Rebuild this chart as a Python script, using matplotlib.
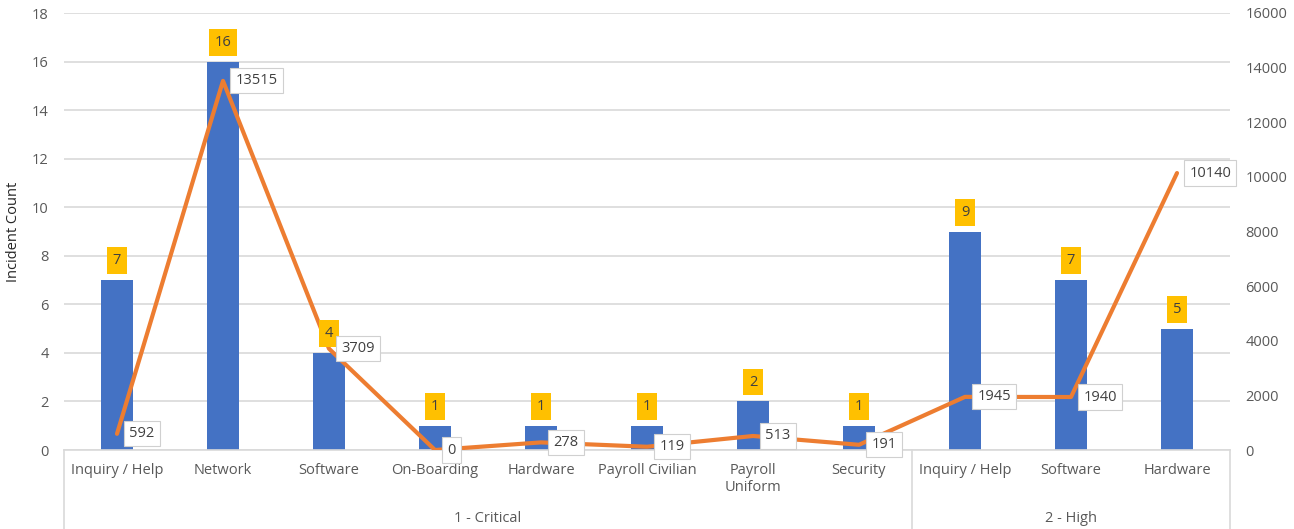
import matplotlib
matplotlib.use("Agg")
import matplotlib.pyplot as plt
from matplotlib.transforms import blended_transform_factory
from matplotlib.lines import Line2D

plt.rcParams['font.family'] = ['Open Sans', 'DejaVu Sans']

categories = ["Inquiry / Help", "Network", "Software", "On-Boarding", "Hardware",
              "Payroll Civilian", "Payroll\nUniform", "Security",
              "Inquiry / Help", "Software", "Hardware"]
groups = ["1 - Critical", "2 - High"]
group_sizes = [8, 3]
incident_counts = [7, 16, 4, 1, 1, 1, 2, 1, 9, 7, 5]
line_values = [592, 13515, 3709, 0, 278, 119, 513, 191, 1945, 1940, 10140]

BLUE = "#4472C4"
ORANGE = "#ED7D31"
GOLD = "#FFC000"
GRID = "#D9D9D9"
TEXT = "#595959"
FS = 10.5

fig = plt.figure(figsize=(12.94, 5.29), dpi=100)
ax = fig.add_axes([64 / 1294, 1 - 450 / 529, (1230 - 64) / 1294, (450 - 13) / 529])
x = list(range(len(categories)))

ax.bar(x, incident_counts, width=0.31, color=BLUE, zorder=2)
ax.set_xlim(-0.5, len(categories) - 0.5)
ax.set_ylim(0, 18)
ax.set_yticks(range(0, 19, 2))
ax.grid(axis='y', color=GRID, linewidth=1.2, zorder=0)
ax.set_axisbelow(True)
for s in ["top", "right", "left"]:
    ax.spines[s].set_visible(False)
ax.spines["bottom"].set_color(GRID)
ax.spines["bottom"].set_linewidth(1.2)
ax.tick_params(axis='y', length=0, pad=11, labelsize=FS, labelcolor=TEXT)
ax.set_xticks(x)
ax.set_xticklabels(categories, fontsize=FS, color=TEXT, linespacing=1.15, va='top')
ax.tick_params(axis='x', length=0, pad=9.5)
ax.set_ylabel("Incident Count", fontsize=FS, color="#262626", labelpad=8)

# group separators and group labels below the category labels
trans = blended_transform_factory(ax.transData, ax.transAxes)
y_bottom = -(1 - 450 / 529) / ((450 - 13) / 529)
edges = [-0.5]
for n in group_sizes:
    edges.append(edges[-1] + n)
for e in edges:
    ax.add_line(Line2D([e, e], [0, y_bottom], transform=trans, color=GRID,
                       linewidth=1.2, clip_on=False))
for g, lo, hi in zip(groups, edges[:-1], edges[1:]):
    ax.text((lo + hi) / 2, -68 / 437, g, transform=trans, ha='center', va='center',
            fontsize=FS, color=TEXT)

ax2 = ax.twinx()
ax2.plot(x, line_values, color=ORANGE, linewidth=3, zorder=3, solid_capstyle='round')
ax2.set_ylim(0, 16000)
ax2.set_yticks(range(0, 16001, 2000))
for s in ax2.spines.values():
    s.set_visible(False)
ax2.tick_params(axis='y', length=0, pad=11, labelsize=FS, labelcolor=TEXT)

# count labels sit above the bars and on top of the line
for xi, v in zip(x, incident_counts):
    ax2.annotate(str(v), (xi, v), xycoords=ax.transData, xytext=(0, 8.5),
                 textcoords='offset points', ha='center', va='bottom',
                 fontsize=FS, color="#404040",
                 bbox=dict(boxstyle='square,pad=0.4', fc=GOLD, ec='none'), zorder=5)

for xi, v in zip(x, line_values):
    ax2.annotate(str(v), (xi, v), xytext=(9, 0), textcoords='offset points',
                 ha='left', va='center', fontsize=FS, color="#404040",
                 bbox=dict(boxstyle='square,pad=0.35', fc='white', ec='#D0D0D0', lw=0.8),
                 zorder=6)

fig.savefig("out.png", dpi=100)
